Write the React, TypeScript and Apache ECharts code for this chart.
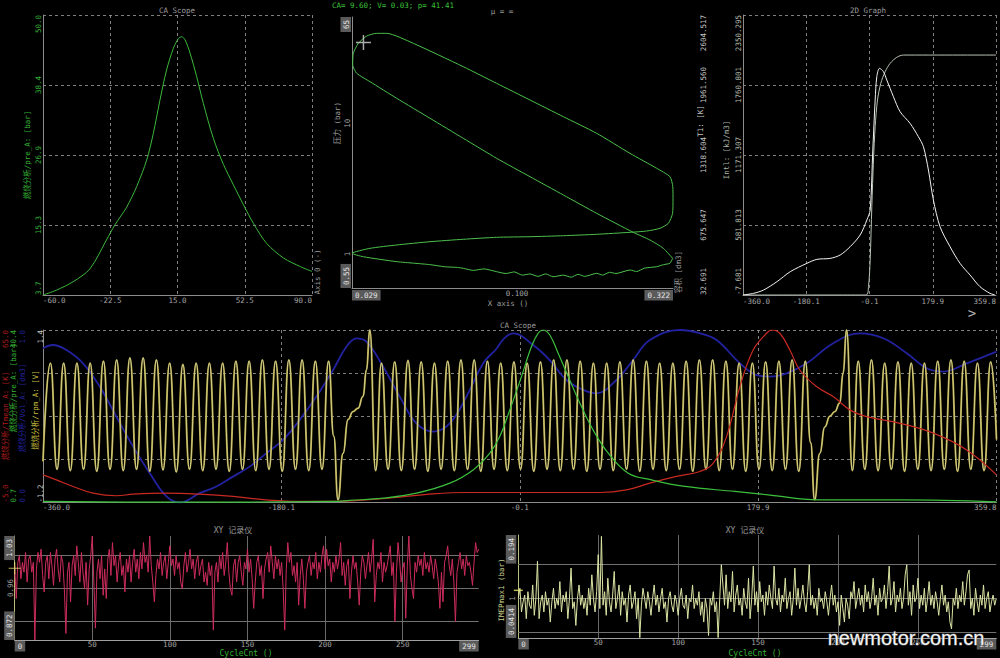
import React, { useEffect, useRef } from "react";
import * as echarts from "echarts";

// ---------------- data ----------------
const CA_X_TICKS = ["-60.0", "-22.5", "15.0", "52.5", "90.0"];
const CA_Y_TICKS = ["3.7", "15.3", "26.9", "38.4", "50.0"];
const CA_PRESSURE: [number, number][] = [
  [-60, 3.7], [-52.5, 4.5], [-43.2, 5.9], [-33.9, 8.0], [-24.6, 12.8], [-19.9, 15.3], [-13.4, 18.2],
  [-7.8, 21.6], [-2.2, 26.0], [1.5, 30.4], [5.2, 35.9], [8.9, 40.9], [12.7, 44.5], [15.5, 46.1],
  [17.3, 46.4], [19.2, 45.9], [22, 43.7], [25.7, 39.8], [29.4, 35.4], [35, 29.6], [40.6, 25.3],
  [46.2, 21.9], [51.8, 18.6], [57.4, 15.5], [64.8, 12.2], [74.2, 9.8], [83.5, 8.4], [90, 7.6],
];

const PV_X_TICKS = ["0.029", "0.100", "0.322"];
const PV_Y_TICKS = ["0.55", "1", "10", "65"];
const PV_LOOP: [number, number][] = [
  [0.321, 0.928], [0.2995, 1.106], [0.271, 1.28], [0.239, 1.466], [0.1817, 2.048], [0.1415, 2.829],
  [0.1102, 3.905], [0.0858, 5.397], [0.0668, 7.678], [0.05205, 10.92], [0.04055, 15.53], [0.0332, 20.8],
  [0.03004, 24.12], [0.02915, 27.91], [0.02929, 34.29], [0.0304, 40.88], [0.03238, 46.5], [0.0349, 48.75],
  [0.03762, 48.75], [0.04594, 40.88], [0.0668, 27.1], [0.0858, 20.21], [0.1102, 15.07], [0.1415, 11.23],
  [0.1817, 8.38], [0.2332, 5.89], [0.2848, 4.53], [0.3148, 3.905], [0.3215, 3.273], [0.322, 2.59],
  [0.321, 2.048], [0.311, 1.718], [0.2921, 1.574], [0.2644, 1.5],
  [0.2332, 1.466], [0.1817, 1.416], [0.1415, 1.381], [0.1102, 1.357], [0.0858, 1.343], [0.0668, 1.297],
  [0.05205, 1.243], [0.04055, 1.173], [0.0332, 1.106], [0.029, 1.013],
  [0.03157, 0.954], [0.0406, 0.874], [0.046, 0.852], [0.052, 0.83], [0.058, 0.8], [0.064, 0.79],
  [0.0668, 0.778], [0.072, 0.75], [0.078, 0.77], [0.0858, 0.733], [0.092, 0.71], [0.098, 0.73],
  [0.104, 0.69], [0.1102, 0.704], [0.117, 0.675], [0.124, 0.705], [0.131, 0.67], [0.1415, 0.69],
  [0.15, 0.665], [0.158, 0.7], [0.166, 0.675], [0.1817, 0.712], [0.19, 0.69], [0.2, 0.725],
  [0.21, 0.71], [0.2332, 0.755], [0.245, 0.735], [0.26, 0.78], [0.2848, 0.8], [0.3, 0.83],
  [0.3148, 0.85], [0.321, 0.928],
];
const PV_CURSOR: [number, number][] = [[0.0316, 41.41]];

const DEG_TICKS = ["-360.0", "-180.1", "-0.1", "179.9", "359.8"];
const INTL_TICKS = ["-7.681", "581.813", "1171.307", "1760.801", "2350.295"];
const T1_TICKS = ["32.691", "675.647", "1318.604", "1961.560", "2604.517"];
const T1_CURVE: [number, number][] = [
  [-360, 32.7], [-329.7, 48], [-301.3, 78.6], [-263.4, 155], [-225.5, 247], [-178.2, 323.6],
  [-149.8, 360], [-111.9, 369], [-83.5, 400], [-55.1, 476.6], [-26.7, 583.8], [-7.7, 721.6],
  [1.8, 813.4], [9.3, 1364], [16, 1823.8], [20.7, 2038], [28.3, 2114.7], [39.6, 2084], [49.1, 2007.5],
  [68, 1854], [87, 1716], [115.4, 1609], [139, 1487], [153.3, 1395], [167.5, 1180.8], [181.7, 905],
  [200.6, 660], [229, 476.6], [257.4, 323.6], [285.9, 216.4], [314.3, 109], [342.7, 48], [356.9, 32.7],
];
const INTL_CURVE: [number, number][] = [
  [-360, -7.7], [-9.6, -7.7], [-3, 62.5], [1.8, 287], [6.5, 736], [11.2, 1129], [16, 1410],
  [22.6, 1634], [32, 1775], [44.4, 1873], [58.6, 1943], [77.5, 1994], [96.5, 2013], [359.8, 2013],
];

const RPM_TICKS = ["-1.2", "", "", "", "1.4"];
const PRE_TICKS = ["0.7", "40.4"];
const VOL_TICKS = ["0.0", "1.0"];
const TM_TICKS = ["-5.0", "65.0"];
const RPM_SIGNAL: [number, number][] = [
  [-360, -0.58],
  [-354.4, 0.9], [-349.4, -0.7], [-344.4, 0.9], [-339.4, -0.72], [-334.4, 0.9], [-329.4, -0.7],
  [-324.4, 0.9], [-319.4, -0.73], [-314.4, 0.93], [-309.4, -0.7], [-304.4, 0.95], [-299.4, -0.72],
  [-294.4, 0.98], [-289.4, -0.7], [-284.4, 0.98], [-279.4, -0.73], [-274.4, 0.95], [-269.4, -0.71],
  [-264.4, 0.9], [-259.4, -0.74], [-254.4, 0.88], [-249.4, -0.7], [-244.4, 0.9], [-239.4, -0.72],
  [-234.4, 0.9], [-229.4, -0.7], [-224.4, 0.9], [-219.4, -0.73], [-214.4, 0.93], [-209.4, -0.7],
  [-204.4, 0.93], [-199.4, -0.72], [-194.4, 0.95], [-189.4, -0.7], [-184.4, 0.93], [-179.4, -0.73],
  [-174.4, 0.95], [-169.4, -0.7], [-164.4, 0.95], [-159.4, -0.72], [-154.4, 0.93], [-149.4, -0.7],
  [-144.4, 0.93],
  [-140.5, -0.2], [-137.3, -1.16], [-133.5, -0.46], [-129.7, 0.05], [-126, 0.17], [-122.2, 0.22],
  [-118.4, 0.4], [-115.8, 0.8], [-113.3, 1.4], [-108.9, -0.72],
  [-104.5, 0.9], [-99.5, -0.7], [-94.5, 0.92], [-89.5, -0.72], [-84.5, 0.94], [-79.5, -0.7],
  [-74.5, 0.92], [-69.5, -0.73], [-64.5, 0.9], [-59.5, -0.7], [-54.5, 0.93], [-49.5, -0.72],
  [-44.5, 0.95], [-39.5, -0.7], [-34.5, 0.95], [-29.5, -0.73], [-24.5, 0.93], [-19.5, -0.7],
  [-14.5, 0.9], [-9.5, -0.72], [-4.5, 0.92], [0.5, -0.7], [5.5, 0.9], [10.5, -0.73], [15.5, 0.92],
  [20.5, -0.7], [25.5, 0.95], [30.5, -0.72], [35.5, 0.95], [40.5, -0.7], [45.5, 0.93], [50.5, -0.73],
  [55.5, 0.9], [60.5, -0.7], [65.5, 0.9], [70.5, -0.72], [75.5, 0.92], [80.5, -0.7], [85.5, 0.95],
  [90.5, -0.73], [95.5, 0.93], [100.5, -0.7], [105.5, 0.9], [110.5, -0.72], [115.5, 0.9], [120.5, -0.7],
  [125.5, 0.93], [130.5, -0.73], [135.5, 0.95], [140.5, -0.7], [145.5, 0.95], [150.5, -0.72],
  [155.5, 0.93], [160.5, -0.7], [165.5, 0.9], [170.5, -0.73], [175.5, 0.9], [180.5, -0.7],
  [185.5, 0.92], [190.5, -0.72], [195.5, 0.93], [200.5, -0.7], [205.5, 0.95], [210.5, -0.73],
  [215.5, 0.93],
  [219.5, -0.3], [222.5, -1.16], [226.4, -0.46], [230.2, -0.06], [234, 0.1], [237.7, 0.17],
  [241.5, 0.3], [244, 0.75], [246.6, 1.4], [251, -0.72],
  [255.4, 0.93], [260.4, -0.7], [265.4, 0.95], [270.4, -0.72], [275.4, 0.9], [280.4, -0.7],
  [285.4, 0.92], [290.4, -0.73], [295.4, 0.9], [300.4, -0.7], [305.4, 0.9], [310.4, -0.72],
  [315.4, 0.93], [320.4, -0.7], [325.4, 0.95], [330.4, -0.73], [335.4, 0.93], [340.4, -0.7],
  [345.4, 0.9], [350.4, -0.72], [355.4, 0.92], [359.8, -0.25],
];
const PRE_SIGNAL: [number, number][] = [
  [-360, 0.94], [-266.8, 0.78], [-141, 0.94], [-128.4, 1.18], [-103.3, 1.69], [-78.1, 2.84],
  [-52.9, 5.15], [-35.3, 8.2], [-22.7, 12.05], [-15.2, 15.87], [-7.6, 22.02], [1.2, 29.68],
  [8.7, 36.55], [13.8, 39.65], [17.6, 40.4], [22.6, 39.25], [28.9, 35.04], [36.5, 29.68],
  [46.5, 22.77], [56.6, 16.66], [66.7, 12.05], [81.8, 7.45], [99.4, 5.9], [124.6, 4.39],
  [162.3, 3.24], [187.5, 2.45], [225.3, 1.3], [288.2, 1.3], [359.8, 0.86],
];
const VOL_SIGNAL: [number, number][] = [
  [-360, 0.894], [-352.4, 0.913], [-342.3, 0.884], [-329.8, 0.807], [-317.2, 0.672], [-304.6, 0.498],
  [-292, 0.324], [-279.4, 0.17], [-266.8, 0.035], [-256.8, 0.0], [-241.7, 0.054], [-229.1, 0.093],
  [-216.6, 0.15], [-204, 0.208], [-191.3, 0.286], [-178.8, 0.363], [-166.2, 0.479], [-153.6, 0.614],
  [-141, 0.768], [-131, 0.903], [-123.4, 0.952], [-115.8, 0.932], [-103.3, 0.788], [-90.7, 0.614],
  [-78.1, 0.459], [-65.5, 0.411], [-52.9, 0.459], [-40.3, 0.614], [-27.7, 0.807], [-17.8, 0.89],
  [-12, 0.95], [-5.1, 0.981], [10, 0.913], [22.5, 0.826], [35.1, 0.71], [47.7, 0.653], [57.8, 0.633],
  [72.9, 0.71], [85.5, 0.826], [98.1, 0.942], [120.8, 1.0], [135.9, 0.981], [148.5, 0.942],
  [166.1, 0.807], [178.7, 0.739], [188.8, 0.73], [201.4, 0.749], [216.5, 0.807], [236.6, 0.923],
  [256.8, 0.981], [274.4, 0.952], [292.1, 0.865], [307.2, 0.778], [319.7, 0.759], [337.4, 0.807],
  [359.8, 0.875],
];
const TM_SIGNAL: [number, number][] = [
  [-360, 6.2], [-349.9, 4.17], [-337.3, 1.51], [-322.2, -1.22], [-304.6, -2.27], [-292, -1.64],
  [-266.8, -1.22], [-241.7, -1.64], [-216.6, -2.55], [-191.3, -3.95], [-166.2, -4.58], [-141, -4.58],
  [-115.8, -3.95], [-90.7, -2.83], [-65.5, -1.5], [-40.3, -0.94], [-15.2, -0.94], [60.3, -0.94],
  [80.4, 0.11], [98.1, 2.84], [118.2, 5.57], [135.9, 7.6], [146, 10.96], [156, 21.74], [166.1, 42.04],
  [176.1, 56.88], [186.2, 63.67], [190, 65], [196.2, 63.67], [203.8, 56.88], [211.3, 48.76],
  [223.9, 42.04], [236.5, 37.98], [249.1, 32.59], [261.7, 29.86], [286.9, 27.13], [312.1, 23.14],
  [337.3, 16.35], [359.8, 6.2],
];

const CYCLE_TICKS = ["0", "50", "100", "150", "200", "250", "299"];
const PINK_Y_TICKS = ["0.872", "0.96", "1.03"];
const PINK_GRID = [0.9, 0.95, 1.0];
const PINK_CURSOR: [number, number][] = [[0, 0.981]];
const PINK_VALUES = [
  0.985, 0.935, 0.99, 1.0, 0.965, 0.99, 0.975, 1.005, 0.96, 0.995,
  1.0, 0.975, 0.99, 0.872, 0.98, 1.005, 0.99, 1.01, 0.97, 0.945,
  0.99, 1.0, 0.965, 1.005, 0.985, 0.955, 0.995, 1.01, 0.98, 0.96,
  1.0, 0.99, 0.95, 0.882, 0.975, 0.99, 0.93, 0.985, 1.0, 0.97,
  1.015, 0.99, 0.96, 1.005, 0.975, 0.95, 0.99, 0.925, 0.98, 1.0,
  1.03, 0.96, 0.89, 0.975, 0.995, 0.965, 1.0, 0.94, 0.98, 0.935,
  0.995, 1.01, 0.97, 1.02, 0.985, 1.0, 0.96, 0.99, 1.005, 0.97,
  0.985, 0.945, 0.995, 0.975, 1.0, 0.96, 0.99, 1.01, 0.975, 0.995,
  0.965, 1.005, 0.98, 1.02, 0.99, 1.0, 0.975, 1.03, 0.985, 0.96,
  0.93, 0.97, 0.995, 0.98, 1.005, 0.97, 0.99, 1.0, 0.965, 0.99,
  1.015, 0.985, 0.995, 0.97, 1.0, 0.98, 0.99, 0.96, 0.95, 0.985,
  1.005, 0.975, 0.99, 1.01, 0.98, 0.995, 0.965, 0.99, 1.0, 0.97,
  0.985, 0.995, 0.96, 0.975, 0.955, 0.99, 0.97, 0.985, 0.887, 0.975,
  0.99, 0.96, 1.0, 0.98, 1.005, 0.97, 0.99, 1.02, 0.975, 0.95,
  0.94, 0.985, 0.995, 0.96, 0.99, 1.0, 0.975, 0.955, 0.99, 0.98,
  1.01, 0.975, 0.995, 0.965, 0.92, 0.96, 0.99, 1.0, 0.97, 0.985,
  0.935, 0.98, 0.995, 1.005, 0.975, 1.015, 0.99, 0.965, 1.0, 0.98,
  0.995, 0.97, 0.99, 0.95, 0.887, 0.98, 1.02, 0.99, 1.005, 0.97,
  0.985, 0.96, 0.99, 0.925, 0.97, 0.995, 0.965, 0.92, 0.975, 0.99,
  1.0, 0.97, 0.99, 0.98, 1.005, 0.965, 0.99, 0.975, 1.0, 1.015,
  0.98, 1.01, 0.985, 0.995, 0.96, 0.99, 0.975, 1.0, 0.98, 0.995,
  1.02, 0.97, 0.99, 0.955, 0.985, 0.995, 0.935, 0.975, 1.0, 0.98,
  0.99, 0.96, 0.925, 0.975, 1.0, 0.99, 0.965, 0.985, 1.005, 0.975,
  0.995, 1.025, 0.93, 0.97, 0.99, 0.98, 1.005, 0.96, 0.99, 0.975,
  0.985, 1.0, 1.015, 0.97, 0.99, 0.9, 0.975, 1.02, 0.995, 0.96,
  0.98, 0.99, 0.905, 0.985, 1.03, 0.97, 0.95, 0.935, 0.99, 0.975,
  1.0, 0.985, 0.995, 0.97, 1.005, 0.98, 0.99, 0.975, 1.0, 0.985,
  0.965, 0.995, 0.98, 0.96, 0.92, 0.975, 0.93, 0.99, 1.0, 1.015,
  0.985, 0.97, 0.995, 0.96, 0.9, 0.975, 0.99, 1.005, 0.98, 0.995,
  0.97, 1.0, 0.985, 0.99, 0.975, 0.955, 0.99, 1.02, 1.005, 1.01,
];

const IMEP_Y_VALUES = [0.0414, 0.05, 0.1, 0.15, 0.194];
const IMEP_Y_TICKS = ["0.0414", "0", "1", "0", "0.194"];
const IMEP_GRID = [0.05, 0.1, 0.15];
const IMEP_CURSOR: [number, number][] = [[0, 0.112]];
const IMEP_VALUES = [
  0.1, 0.115, 0.08, 0.095, 0.105, 0.07, 0.11, 0.09, 0.085, 0.12,
  0.075, 0.1, 0.155, 0.07, 0.095, 0.105, 0.08, 0.11, 0.09, 0.1,
  0.065, 0.095, 0.115, 0.085, 0.1, 0.09, 0.125, 0.08, 0.105, 0.095,
  0.11, 0.07, 0.1, 0.145, 0.085, 0.095, 0.06, 0.1, 0.12, 0.09,
  0.105, 0.085, 0.1, 0.075, 0.115, 0.09, 0.135, 0.1, 0.08, 0.11,
  0.165, 0.085, 0.192, 0.09, 0.11, 0.075, 0.13, 0.095, 0.08, 0.105,
  0.14, 0.085, 0.1, 0.12, 0.075, 0.11, 0.09, 0.1, 0.065, 0.105,
  0.12, 0.085, 0.095, 0.11, 0.07, 0.1, 0.042, 0.09, 0.115, 0.1,
  0.085, 0.11, 0.095, 0.075, 0.1, 0.12, 0.09, 0.105, 0.08, 0.1,
  0.115, 0.085, 0.095, 0.065, 0.1, 0.11, 0.09, 0.08, 0.105, 0.095,
  0.075, 0.1, 0.115, 0.09, 0.085, 0.105, 0.07, 0.1, 0.095, 0.12,
  0.085, 0.1, 0.09, 0.11, 0.075, 0.095, 0.065, 0.1, 0.085, 0.045,
  0.1, 0.09, 0.11, 0.08, 0.095, 0.042, 0.1, 0.15, 0.12, 0.09,
  0.135, 0.085, 0.11, 0.095, 0.14, 0.08, 0.105, 0.12, 0.09, 0.1,
  0.075, 0.115, 0.095, 0.085, 0.13, 0.07, 0.1, 0.148, 0.09, 0.11,
  0.08, 0.125, 0.095, 0.105, 0.075, 0.11, 0.09, 0.12, 0.1, 0.085,
  0.148, 0.1, 0.09, 0.115, 0.08, 0.105, 0.095, 0.13, 0.085, 0.1,
  0.11, 0.075, 0.1, 0.145, 0.09, 0.115, 0.085, 0.1, 0.12, 0.095,
  0.08, 0.11, 0.15, 0.09, 0.105, 0.085, 0.1, 0.075, 0.115, 0.095,
  0.1, 0.085, 0.11, 0.095, 0.075, 0.1, 0.12, 0.09, 0.105, 0.08,
  0.095, 0.06, 0.105, 0.085, 0.065, 0.1, 0.09, 0.07, 0.11, 0.1,
  0.125, 0.085, 0.1, 0.115, 0.09, 0.105, 0.08, 0.12, 0.095, 0.11,
  0.085, 0.1, 0.13, 0.09, 0.105, 0.075, 0.115, 0.095, 0.1, 0.12,
  0.085, 0.11, 0.148, 0.09, 0.1, 0.125, 0.08, 0.105, 0.095, 0.115,
  0.085, 0.1, 0.135, 0.15, 0.09, 0.11, 0.075, 0.12, 0.095, 0.1,
  0.13, 0.085, 0.105, 0.09, 0.115, 0.08, 0.1, 0.125, 0.09, 0.105,
  0.085, 0.11, 0.095, 0.075, 0.1, 0.12, 0.09, 0.105, 0.08, 0.095,
  0.065, 0.055, 0.1, 0.09, 0.115, 0.085, 0.105, 0.095, 0.125, 0.09,
  0.11, 0.135, 0.142, 0.085, 0.1, 0.075, 0.115, 0.095, 0.08, 0.105,
  0.09, 0.12, 0.085, 0.1, 0.11, 0.08, 0.095, 0.105, 0.09, 0.1,
];

// ---------------- styles ----------------
const FONT = "'DejaVu Sans Mono', 'Noto Sans CJK SC', monospace";
const GRAY = "#a4a4a4";
const TITLE = "#9c9c9c";
const GREEN = "#35b035";
const RED = "#a81c1c";
const BLUE = "#22229c";
const YELLOW = "#c4bc3c";
const LINE = { show: true, onZero: false, lineStyle: { color: "#8c8c8c", width: 1 } };
const NOLINE = { show: false, onZero: false };
const NOTICK = { show: false };
const DASH = { show: true, lineStyle: { color: "#a0a0a0", width: 0.8, type: [3, 3] } };
const SOLIDV = { show: true, showMinLine: false, showMaxLine: false, lineStyle: { color: "#6a6a6a", width: 1, type: "solid" } };
const BOX = { backgroundColor: "#5a5a5a", color: "#e4e4e4", padding: [2, 3, 1, 3], fontSize: 7.5, fontFamily: FONT };
const CROSS = "path://M0,4.5H10V5.5H0Z M4.5,0H5.5V10H4.5Z";

const boxed = (labels: string[]) =>
  labels.map((t, i) => (i === 0 || i === labels.length - 1 ? `{b|${t}}` : t));

const lab = (labels: string[], color: string, extra: any = {}) => ({
  show: true,
  color,
  fontSize: 7.5,
  fontFamily: FONT,
  margin: 2,
  showMinLabel: true,
  showMaxLabel: true,
  alignMinLabel: "left",
  alignMaxLabel: "right",
  formatter: (_v: number, i: number) => labels[i] ?? "",
  rich: { b: BOX },
  ...extra,
});

const IMEP_LABELS = boxed(IMEP_Y_TICKS);
const imepLabel = (v: number) => {
  const k = IMEP_Y_VALUES.findIndex((c) => Math.abs(c - v) < 1e-6);
  return k >= 0 ? IMEP_LABELS[k] : "";
};

const txt = (text: string, x: number, y: number, fill: string, o: any = {}) => ({
  type: "text",
  x,
  y,
  rotation: o.rot ? Math.PI / 2 : 0,
  silent: true,
  z: 50,
  style: {
    text,
    fill,
    fontSize: o.size ?? 7.5,
    fontFamily: FONT,
    align: o.align ?? "center",
    verticalAlign: "middle",
  },
});

const gridLines = (values: number[]) => ({
  silent: true,
  z: 1,
  symbol: ["none", "none"],
  label: { show: false },
  lineStyle: { color: "#707070", width: 1, type: "solid" },
  emphasis: { disabled: true },
  data: values.map((v) => ({ yAxis: v })),
});

function buildOption(): any {
  const degAxis = (gridIndex: number, margin: number) => ({
    gridIndex,
    type: "value",
    position: "bottom",
    min: -360,
    max: 359.8,
    interval: 179.95,
    axisLine: LINE,
    axisTick: NOTICK,
    splitLine: DASH,
    axisLabel: lab(DEG_TICKS, GRAY, { margin }),
  });
  const cycleAxis = (gridIndex: number) => ({
    gridIndex,
    type: "value",
    position: "bottom",
    min: 0,
    max: 299,
    interval: 50,
    axisLine: { show: true, onZero: false, lineStyle: { color: "#a0a0a0", width: 1 } },
    axisTick: NOTICK,
    splitLine: SOLIDV,
    axisLabel: lab(boxed(CYCLE_TICKS), GRAY, { margin: 1 }),
  });
  const line = (extra: any) => ({
    type: "line",
    showSymbol: false,
    symbol: "none",
    silent: true,
    z: 3,
    ...extra,
  });

  return {
    animation: false,
    backgroundColor: "#000000",
    textStyle: { fontFamily: FONT },
    grid: [
      { left: 43, top: 15, width: 269, height: 280, outerBoundsMode: "none" },
      { left: 352, top: 17, width: 321, height: 271, outerBoundsMode: "none" },
      { left: 743, top: 15, width: 253, height: 280, outerBoundsMode: "none" },
      { left: 43, top: 330, width: 953.5, height: 172.5, outerBoundsMode: "none" },
      { left: 14.7, top: 536, width: 464, height: 104, outerBoundsMode: "none" },
      { left: 518.3, top: 535, width: 478, height: 103, outerBoundsMode: "none" },
    ],
    xAxis: [
      {
        gridIndex: 0, type: "value", position: "bottom", min: -60, max: 90, interval: 37.5,
        axisLine: LINE, axisTick: NOTICK, splitLine: DASH,
        axisLabel: lab(CA_X_TICKS, GRAY, { margin: 2 }),
      },
      {
        gridIndex: 1, type: "log", position: "bottom", logBase: 10, min: 0.029, max: 0.322,
        axisLine: LINE, axisTick: NOTICK, splitLine: { show: false }, minorTick: { show: false },
        axisLabel: lab(boxed(PV_X_TICKS), GRAY, { margin: 2 }),
      },
      degAxis(2, 3),
      degAxis(3, 1.5),
      cycleAxis(4),
      cycleAxis(5),
    ],
    yAxis: [
      {
        gridIndex: 0, type: "value", position: "left", min: 3.7, max: 50, interval: 11.575,
        axisLine: LINE, axisTick: NOTICK, splitLine: DASH,
        axisLabel: lab(CA_Y_TICKS, GREEN, { rotate: 90, margin: 1 }),
      },
      {
        gridIndex: 1, type: "log", position: "left", logBase: 10, min: 0.55, max: 65,
        axisLine: LINE, axisTick: NOTICK, splitLine: { show: false }, minorTick: { show: false },
        axisLabel: lab(boxed(PV_Y_TICKS), GRAY, { rotate: 90, margin: 1 }),
      },
      {
        gridIndex: 2, type: "value", position: "left", min: -7.681, max: 2350.295, interval: 589.494,
        axisLine: LINE, axisTick: NOTICK, splitLine: DASH,
        axisLabel: lab(INTL_TICKS, "#b4bcac", { rotate: 90, margin: 0.5 }),
      },
      {
        gridIndex: 2, type: "value", position: "left", min: 32.691, max: 2604.517, interval: 642.9565, offset: 36,
        axisLine: NOLINE, axisTick: NOTICK, splitLine: { show: false },
        axisLabel: lab(T1_TICKS, "#c4c4c4", { rotate: 90, margin: 0 }),
      },
      {
        gridIndex: 3, type: "value", position: "left", min: -1.2, max: 1.4, interval: 0.65,
        axisLine: LINE, axisTick: NOTICK, splitLine: DASH,
        axisLabel: lab(RPM_TICKS, "#c4c4c4", { rotate: 90, margin: -1 }),
      },
      {
        gridIndex: 3, type: "value", position: "left", min: 0.7, max: 40.4, interval: 39.7, offset: 25.5,
        axisLine: NOLINE, axisTick: NOTICK, splitLine: { show: false },
        axisLabel: lab(PRE_TICKS, GREEN, { rotate: 90, margin: 0 }),
      },
      {
        gridIndex: 3, type: "value", position: "left", min: 0, max: 1, interval: 1, offset: 16.5,
        axisLine: NOLINE, axisTick: NOTICK, splitLine: { show: false },
        axisLabel: lab(VOL_TICKS, BLUE, { rotate: 90, margin: 0 }),
      },
      {
        gridIndex: 3, type: "value", position: "left", min: -5, max: 65, interval: 70, offset: 33.5,
        axisLine: NOLINE, axisTick: NOTICK, splitLine: { show: false },
        axisLabel: lab(TM_TICKS, RED, { rotate: 90, margin: 0 }),
      },
      {
        gridIndex: 4, type: "value", position: "left", min: 0.872, max: 1.03, interval: 0.079,
        axisLine: { show: true, onZero: false, lineStyle: { color: "#b8b878", width: 1 } }, axisTick: NOTICK,
        splitLine: { show: false },
        axisLabel: lab(boxed(PINK_Y_TICKS), GRAY, { rotate: 90, margin: 0 }),
      },
      {
        gridIndex: 5, type: "value", position: "left", min: 0.0414, max: 0.194,
        axisLine: { show: true, onZero: false, lineStyle: { color: "#b8c080", width: 1 } },
        axisTick: { show: false, customValues: IMEP_Y_VALUES },
        splitLine: { show: false },
        axisLabel: lab(IMEP_LABELS, GRAY, {
          rotate: 90, margin: 2, customValues: IMEP_Y_VALUES,
          formatter: (v: number) => imepLabel(v),
        }),
      },
    ],
    series: [
      line({ xAxisIndex: 0, yAxisIndex: 0, data: CA_PRESSURE, smooth: 0.3, lineStyle: { color: "#3cb83c", width: 1 } }),
      line({ xAxisIndex: 1, yAxisIndex: 1, data: PV_LOOP, smooth: 0.2, lineStyle: { color: "#4cc04c", width: 1 } }),
      {
        type: "scatter", xAxisIndex: 1, yAxisIndex: 1, data: PV_CURSOR, symbol: CROSS, symbolSize: 15,
        silent: true, z: 5, itemStyle: { color: "#d4d4d4" },
      },
      line({ xAxisIndex: 2, yAxisIndex: 2, data: INTL_CURVE, smooth: 0.3, lineStyle: { color: "#b8c4b4", width: 1 } }),
      line({ xAxisIndex: 2, yAxisIndex: 3, data: T1_CURVE, smooth: 0.3, lineStyle: { color: "#f2f2f2", width: 1 } }),
      line({ xAxisIndex: 3, yAxisIndex: 6, data: VOL_SIGNAL, smooth: 0.4, z: 2, lineStyle: { color: "#2222a0", width: 1.8 } }),
      line({ xAxisIndex: 3, yAxisIndex: 4, data: RPM_SIGNAL, smooth: 0.5, smoothMonotone: "x", lineStyle: { color: "#a89c30", width: 1.9 } }),
      line({ xAxisIndex: 3, yAxisIndex: 4, data: RPM_SIGNAL, smooth: 0.5, smoothMonotone: "x", lineStyle: { color: "#f0eed0", width: 0.6 } }),
      line({ xAxisIndex: 3, yAxisIndex: 7, data: TM_SIGNAL, smooth: 0.4, z: 4, lineStyle: { color: "#c82a22", width: 1.2 } }),
      line({ xAxisIndex: 3, yAxisIndex: 5, data: PRE_SIGNAL, smooth: 0.4, z: 4, lineStyle: { color: "#3cc03c", width: 1.2 } }),
      line({
        xAxisIndex: 4, yAxisIndex: 8, data: PINK_VALUES.map((v, i) => [i, v]),
        lineStyle: { color: "#cc2c5c", width: 1 }, markLine: gridLines(PINK_GRID),
      }),
      {
        type: "scatter", xAxisIndex: 4, yAxisIndex: 8, data: PINK_CURSOR, symbol: CROSS, symbolSize: 12,
        silent: true, z: 5, itemStyle: { color: "#e8e070" },
      },
      line({
        xAxisIndex: 5, yAxisIndex: 9, data: IMEP_VALUES.map((v, i) => [i, v]),
        lineStyle: { color: "#dce4a4", width: 1 }, markLine: gridLines(IMEP_GRID),
      }),
      {
        type: "scatter", xAxisIndex: 5, yAxisIndex: 9, data: IMEP_CURSOR, symbol: "rect", symbolSize: [9, 1.5],
        silent: true, z: 5, itemStyle: { color: "#e8e070" },
      },
    ],
    graphic: [
      txt("CA Scope", 177, 10, TITLE),
      txt("CA= 9.60; V= 0.03; p= 41.41", 332, 5, "#3cc03c", { align: "left" }),
      txt("μ = ∞", 502, 11, TITLE),
      txt("X axis ()", 508, 303.5, TITLE),
      txt("压力 (bar)", 337, 123, TITLE, { rot: true }),
      txt("容积 [dm3]", 678, 272, TITLE, { rot: true }),
      txt("Axis 0 (-)", 317, 272, TITLE, { rot: true }),
      txt("燃烧分析/pre_A: [bar]", 27.5, 155, GREEN, { rot: true }),
      txt("2D Graph", 868, 10, TITLE),
      txt("T1: [K]", 700, 121, "#c4c4c4", { rot: true }),
      txt("Intl: [kJ/m3]", 726, 150, "#aab4a4", { rot: true }),
      txt(">", 972, 313, "#b4b4b4", { size: 14 }),
      txt("CA Scope", 518, 325, TITLE),
      txt("燃烧分析/Tmean_A: [K]", 5, 416, RED, { rot: true }),
      txt("燃烧分析/pre_A: [bar]", 13.5, 388, GREEN, { rot: true }),
      txt("燃烧分析/Vol_A: [dm3]", 22.5, 408, BLUE, { rot: true }),
      txt("燃烧分析/rpm_A: [V]", 35, 410, YELLOW, { rot: true }),
      txt("XY 记录仪", 233, 530, TITLE, { size: 8 }),
      txt("XY 记录仪", 745, 530, TITLE, { size: 8 }),
      txt("CycleCnt ()", 246, 653, GREEN, { size: 8 }),
      txt("CycleCnt ()", 755, 653, GREEN, { size: 8 }),
      txt("IMEPmax1 (bar)", 501, 590, "#c8d090", { rot: true }),
      {
        type: "text", x: 906, y: 638, silent: true, z: 100,
        style: {
          text: "newmotor.com.cn", fill: "#f4f4f4", stroke: "#555555", lineWidth: 1,
          fontSize: 20, fontFamily: "'Liberation Sans', Arial, sans-serif",
          align: "center", verticalAlign: "middle",
        },
      },
    ],
  };
}

export default function App() {
  const ref = useRef<HTMLDivElement>(null);
  useEffect(() => {
    if (!ref.current) return;
    const chart = echarts.init(ref.current, null, { renderer: "svg" });
    chart.setOption(buildOption());
    return () => chart.dispose();
  }, []);
  return (
    <div
      ref={ref}
      style={{ position: "absolute", left: 0, top: 0, width: 1000, height: 658, background: "#000" }}
    />
  );
}
